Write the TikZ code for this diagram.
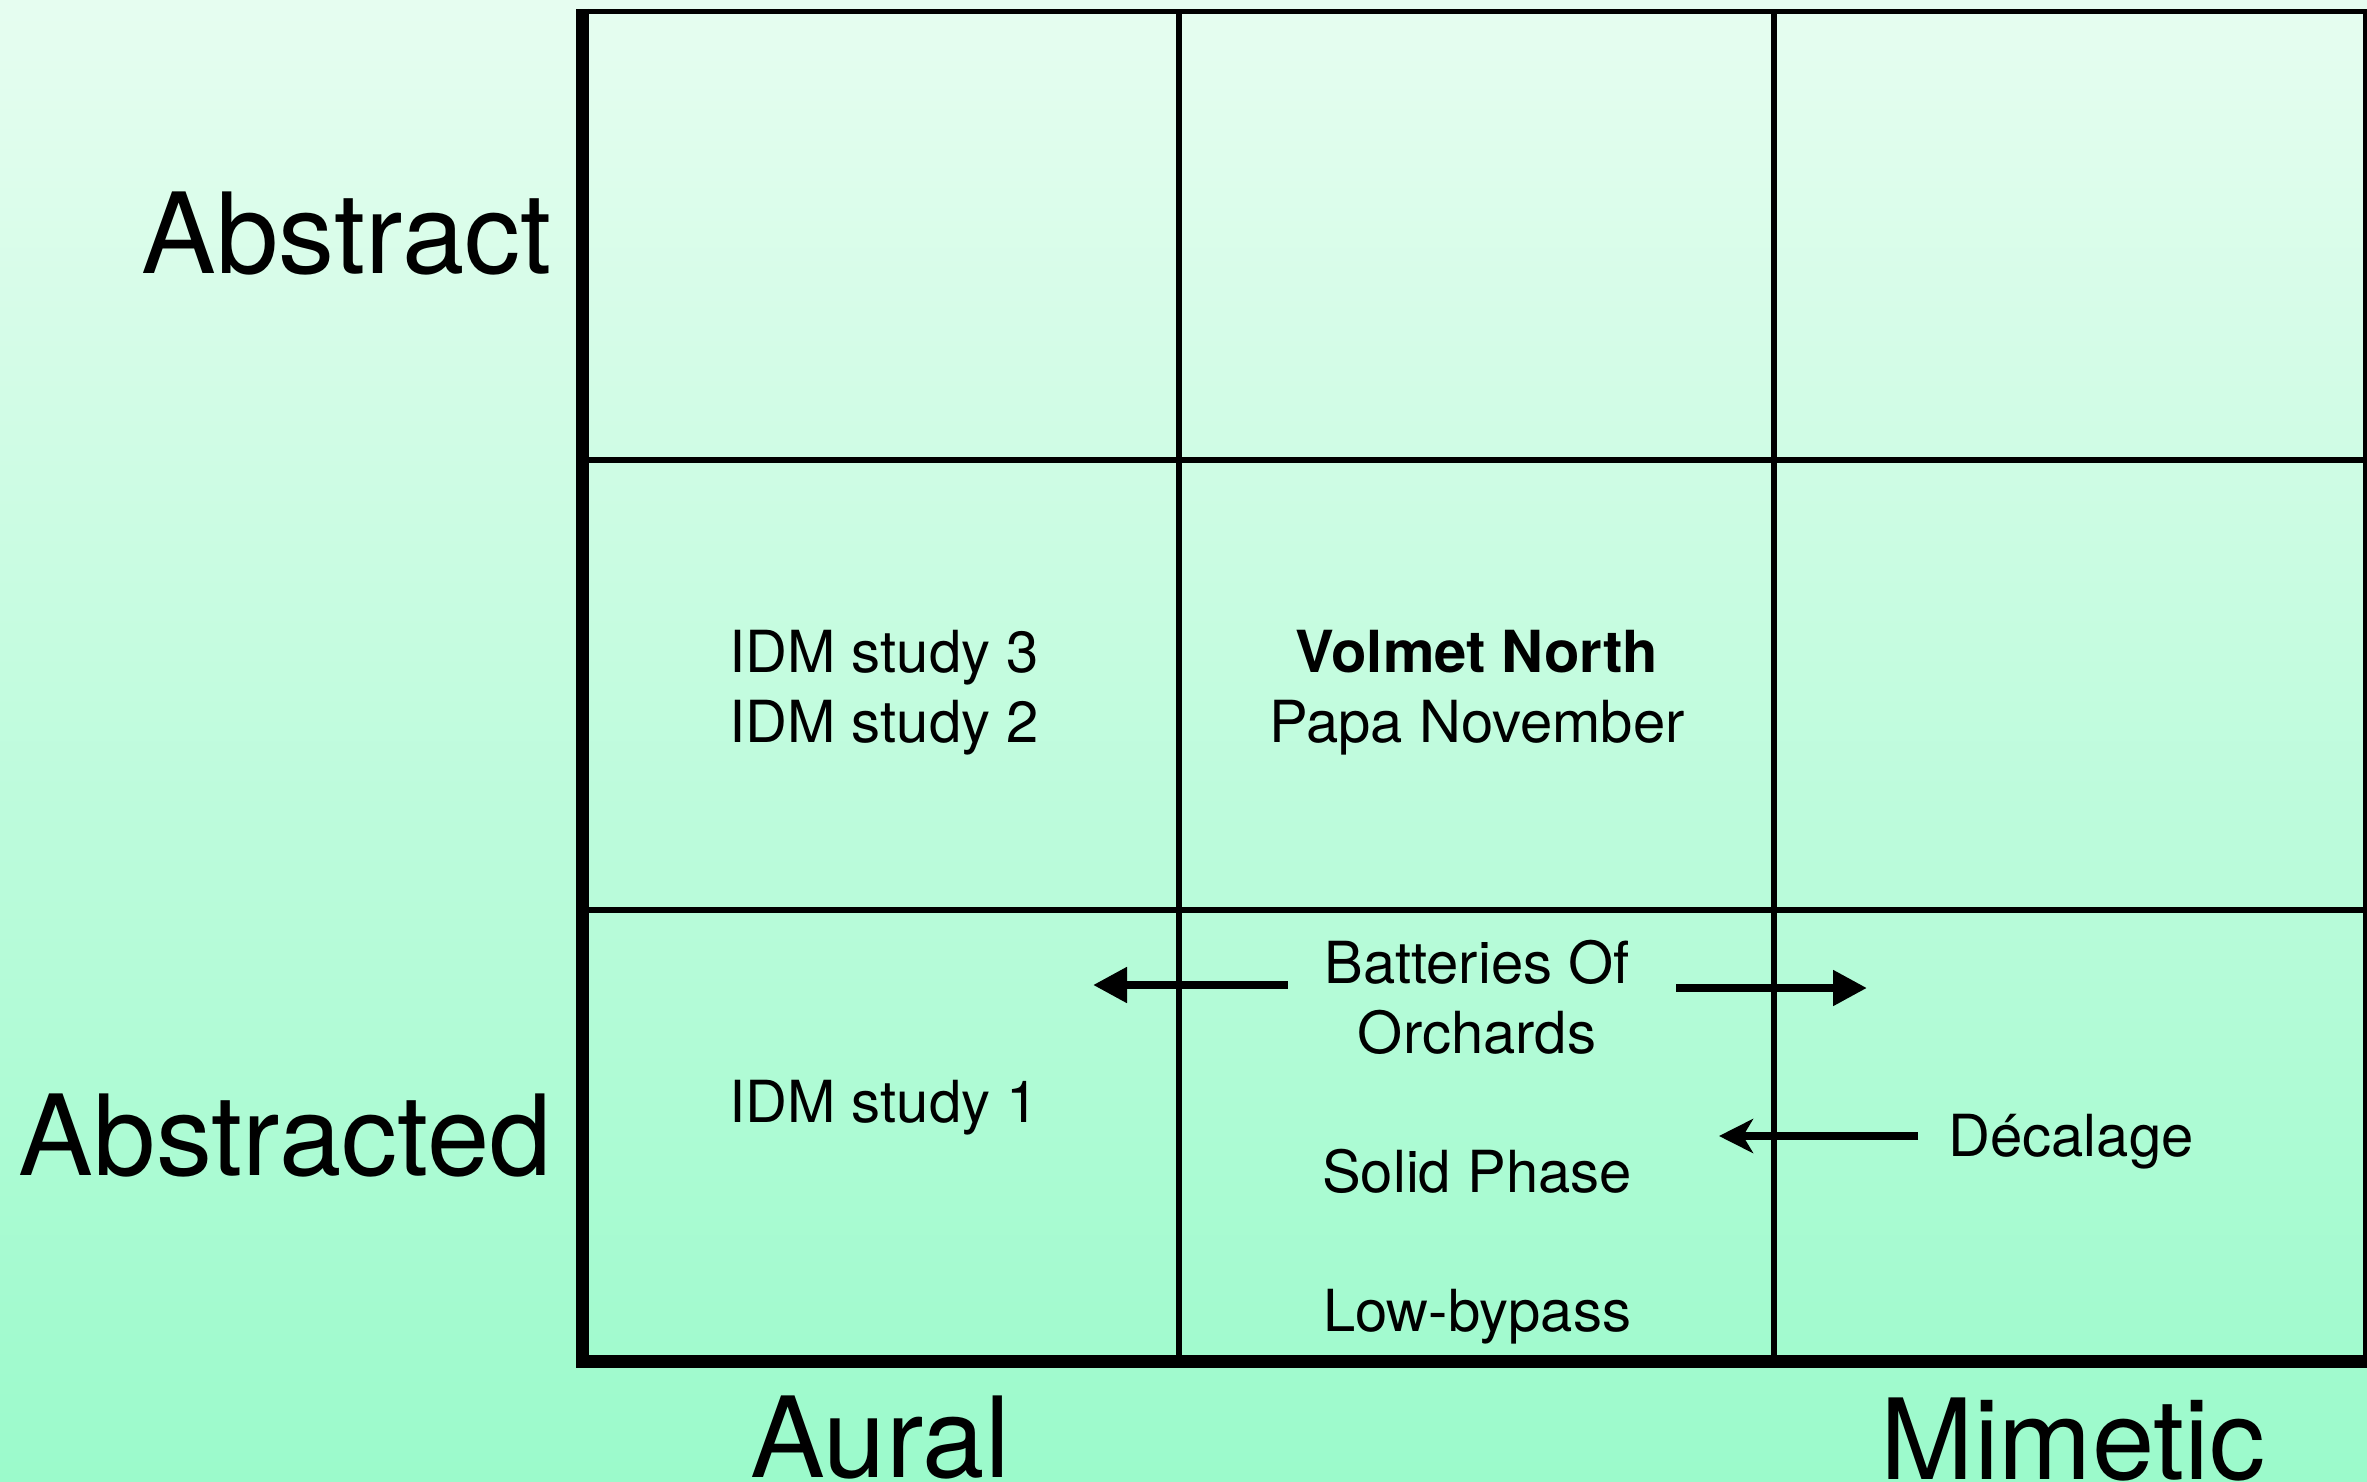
\documentclass[tikz,border=0pt]{standalone}
\usepackage{fontspec}
\setmainfont{TeX Gyre Heros}
\usetikzlibrary{arrows.meta}
\newcommand{\axisFont}[0]{\fontsize{56pt}{60pt}\selectfont}
\newcommand{\cellFont}[0]{\fontsize{29pt}{35pt}\selectfont}
\newcommand{\gridWidth}[0]{2.6pt}
\newcommand{\axisWidth}[0]{6.5pt}
\newcommand{\moveWidth}[0]{4pt}
\definecolor{mintTop}{RGB}{230,253,240}
\definecolor{mintBottom}{RGB}{155,250,203}

\begin{document}
\begin{tikzpicture}[x=0.5pt, y=-0.5pt]
  \tikzset{axis label/.style={font=\axisFont, inner sep=0pt},
    cell text/.style={font=\cellFont, align=center, inner sep=0pt},
    move/.style={line width=\moveWidth, -{Triangle[length=17pt, width=17pt]}},
    move back/.style={line width=\moveWidth, -{Stealth[length=17pt, width=17pt, inset=5pt]}}}
  \useasboundingbox (0,0) rectangle (2367,1482);
  \shade[top color=mintTop, bottom color=mintBottom] (0,0) rectangle (2367,1482);
  \draw[line width=\gridWidth] (582,11.5) -- (2366,11.5) -- (2366,1361);
  \draw[line width=\gridWidth] (582,460) -- (2367,460);
  \draw[line width=\gridWidth] (582,910) -- (2367,910);
  \draw[line width=\gridWidth] (1179,11.5) -- (1179,1361);
  \draw[line width=\gridWidth] (1774,11.5) -- (1774,1361);
  \draw[line width=\axisWidth] (582.5,9) -- (582.5,1361) -- (2367,1361);
  \node[axis label, anchor=base east] (Row-1) at (552,274) {Abstract};
  \node[axis label, anchor=base east] (Row-2) at (552,1175) {Abstracted};
  \node[axis label, anchor=base] (Col-1) at (880,1477) {Aural};
  \node[axis label, anchor=base] (Col-3) at (2073,1479) {Mimetic};
  \node[cell text, anchor=base] (IDM-3) at (884,742) {IDM study 3\\IDM study 2};
  \node[cell text, anchor=base] (Volmet) at (1477,742) {\textbf{Volmet North}\\Papa November};
  \node[cell text, anchor=base] (IDM-1) at (884,1122) {IDM study 1};
  \node[cell text, anchor=base, inner xsep=18pt] (Batteries) at (1477,1053) {Batteries Of\\Orchards};
  \node[cell text, anchor=base] (Solid) at (1477,1192) {Solid Phase};
  \node[cell text, anchor=base] (Low) at (1477,1331) {Low-bypass};
  \node[cell text, anchor=base, inner xsep=15pt] (Decalage) at (2071,1156) {Décalage};
  \coordinate (Aural-tip) at (1093,985);
  \coordinate (Mimetic-tip) at (1867,988);
  \coordinate (Solid-tip) at (1719,1136);
  \draw[move] (Batteries.west |- Aural-tip) -- (Aural-tip);
  \draw[move, shorten <=5pt] (Batteries.east |- Mimetic-tip) -- (Mimetic-tip);
  \draw[move back] (Decalage.west |- Solid-tip) -- (Solid-tip);
\end{tikzpicture}
\end{document}
